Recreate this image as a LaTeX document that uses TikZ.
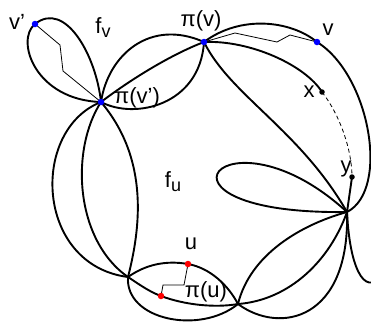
\documentclass[tikz,border=0pt]{standalone}
\usepackage{fontspec}
\setmainfont{Liberation Sans}

\tikzset{
  edge/.style={line width=1.9pt},
  walk/.style={line width=0.8pt},
  bluedot/.style={circle,fill=blue,inner sep=0pt,minimum size=6.5pt},
  reddot/.style={circle,fill=red,inner sep=0pt,minimum size=6.5pt},
  blackdot/.style={circle,fill=black,inner sep=0pt,minimum size=5.5pt},
  lbl/.style={inner sep=0pt,font=\fontsize{22}{24}\selectfont}
}

\newcommand{\subv}[1]{\raisebox{-4pt}{\fontsize{18}{18}\selectfont #1}}

\begin{document}
\begin{tikzpicture}[x=1pt,y=-1pt]
  \useasboundingbox (0,0) rectangle (371,322);
  \clip (0,0) rectangle (371,322);

  % vertices
  \coordinate (A) at (101,102);   % pi(v')
  \coordinate (B) at (204,42);    % pi(v)
  \coordinate (C) at (347,212);
  \coordinate (D) at (128,277);
  \coordinate (E) at (238,304);
  \coordinate (vp) at (35,24);
  \coordinate (v) at (317,42);
  \coordinate (x) at (322,92);
  \coordinate (y) at (352,177);
  \coordinate (u) at (188,264);
  \coordinate (pu) at (161,296);
  \coordinate (off) at (385,270);

  % loop through v'
  \draw[edge] (A) .. controls (96,55) and (65,0) .. (vp);
  \draw[edge] (vp) .. controls (15,40) and (35,100) .. (A);

  % three edges between pi(v') and pi(v)
  \draw[edge] (A) .. controls (108,55) and (150,18) .. (B);
  \draw[edge] (A) .. controls (130,80) and (170,55) .. (B);
  \draw[edge] (A) .. controls (135,120) and (200,105) .. (B);

  % outer arc through v
  \draw[edge] (B) .. controls (240,15) and (290,20) .. (v);
  \draw[edge] (v) .. controls (370,75) and (390,190) .. (C);
  \draw[edge] (C) .. controls (350,275) and (368,300) .. (off);

  % pi(v) to x, x to y, y to the right vertex
  \draw[edge] (B) .. controls (250,40) and (305,65) .. (x);
  \draw[walk,dash pattern=on 4pt off 3pt] (x) .. controls (340,115) and (352,150) .. (y);
  \draw[edge] (y) -- (C);
  \draw[edge] (B) .. controls (230,95) and (300,130) .. (C);

  % petal at the right vertex
  \draw[edge] (C) .. controls (225,100) and (128,215) .. (C);

  % edges from pi(v') down
  \draw[edge] (A) .. controls (30,130) and (35,265) .. (D);
  \draw[edge] (A) .. controls (70,150) and (75,240) .. (D);
  \draw[edge] (A) .. controls (150,160) and (140,230) .. (D);

  % bottom lens
  \draw[edge] (D) .. controls (145,265) and (165,260) .. (u);
  \draw[edge] (u) .. controls (210,268) and (228,285) .. (E);
  \draw[edge] (D) .. controls (140,285) and (150,292) .. (pu);
  \draw[edge] (pu) .. controls (185,305) and (215,308) .. (E);
  \draw[edge] (D) .. controls (125,320) and (200,335) .. (E);

  % edges to the right vertex
  \draw[edge] (E) .. controls (250,255) and (300,225) .. (C);
  \draw[edge] (E) .. controls (290,300) and (330,260) .. (C);
  \draw[edge] (E) .. controls (280,335) and (350,320) .. (C);

  % walks
  \draw[walk] (vp) -- (60,45) -- (63,71) -- (A);
  \draw[walk] (B) -- (235,33) -- (277,42) -- (290,35) -- (v);
  \draw[walk] (u) -- (184,285) -- (163,285) -- (pu);

  % dots
  \node[bluedot] (dvp) at (vp) {};
  \node[bluedot] (dA) at (A) {};
  \node[bluedot] (dB) at (B) {};
  \node[bluedot] (dv) at (v) {};
  \node[blackdot] (dx) at (x) {};
  \node[blackdot] (dy) at (y) {};
  \node[reddot] (du) at (u) {};
  \node[reddot] (dpu) at (pu) {};

  % labels
  \node[lbl] (lvp) at (17,22) {v'};
  \node[lbl] (lfv) at (103,28) {f\subv{v}};
  \node[lbl] (lB) at (201,21) {π(v)};
  \node[lbl] (lv) at (328,30) {v};
  \node[lbl] (lA) at (137,98) {π(v')};
  \node[lbl] (lx) at (309,92) {x};
  \node[lbl] (ly) at (346,169) {y};
  \node[lbl] (lfu) at (173,182) {f\subv{u}};
  \node[lbl] (lu) at (191,244) {u};
  \node[lbl] (lpu) at (206,292) {π(u)};
\end{tikzpicture}
\end{document}
